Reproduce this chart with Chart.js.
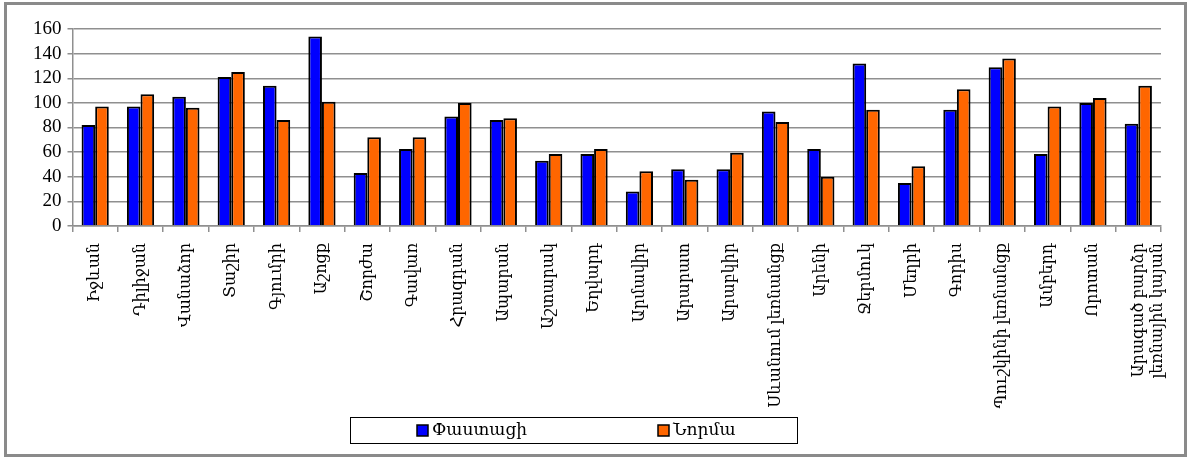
<!DOCTYPE html>
<html>
<head>
<meta charset="utf-8">
<script src="https://cdn.jsdelivr.net/npm/chart.js@4.4.0/dist/chart.umd.js"></script>
<style>
    html, body { margin: 0; padding: 0; background: #fff; }
    #wrap { position: relative; width: 1188px; height: 457px; overflow: hidden; }
    #frame {
        position: absolute;
        left: 4px; top: 2px;
        width: 1177px; height: 449px;
        border: 3px solid #8a8a8a;
        pointer-events: none;
    }
    canvas { position: absolute; left: 0; top: 0; }
</style>
</head>
<body>
<div id="wrap">
    <canvas id="chart" width="1188" height="457"></canvas>
    <div id="frame"></div>
</div>
<script>
// Կայաններ
const stations = [
    'Իջևան', 'Դիլիջան', 'Վանաձոր', 'Տաշիր', 'Գյումրի', 'Աշոցք',
    'Շորժա', 'Գավառ', 'Հրազդան', 'Ապարան', 'Աշտարակ', 'Եղվարդ',
    'Արմավիր', 'Արարատ', 'Արաբկիր', 'Սևանում լեռնանցք', 'Արենի', 'Ջերմուկ',
    'Մեղրի', 'Գորիս', 'Պուշկինի լեռնանցք', 'Ամբերդ', 'Որոտան',
    ['Արագած բարձր', 'լեռնային կայան']
];

const actual = [82, 97, 105, 121, 114, 154, 43, 62.5, 89, 86, 53, 58.5,
                28, 46, 46, 93, 62.5, 132, 35, 94.5, 129, 58.5, 100, 83];
const norm   = [97, 107, 96, 125, 86, 101, 72, 72, 100, 87.5, 58.5, 62.5,
                44.5, 37.5, 59.5, 84.5, 40, 94.5, 48.5, 111, 136, 97, 104, 114];

const seriesNames = ['Փաստացի', 'Նորմա'];
const yTicks = [0, 20, 40, 60, 80, 100, 120, 140, 160];

const FONT = "'Liberation Serif', 'DejaVu Serif', serif";
const GRID = '#8f8f8f';

// legend dessinée à la main (cadre + carrés)
const boxLegend = {
    id: 'boxLegend',
    afterDraw(chart) {
        const ctx = chart.ctx;
        const W = chart.width;
        const frame = { x: W * 0.2946, y: 417, w: W * 0.3763, h: 26 };
        const itemX = [W * 0.351, W * 0.554];
        const cy = frame.y + frame.h / 2;
        ctx.save();
        ctx.strokeStyle = '#000';
        ctx.lineWidth = 1;
        ctx.strokeRect(Math.round(frame.x) + 0.5, frame.y + 0.5, Math.round(frame.w), frame.h);
        ctx.font = '17px ' + FONT;
        ctx.textBaseline = 'middle';
        chart.data.datasets.forEach((ds, i) => {
            const x = Math.round(itemX[i]);
            ctx.fillStyle = ds.backgroundColor;
            ctx.fillRect(x, cy - 5, 11, 11);
            ctx.strokeStyle = '#000';
            ctx.lineWidth = 1.5;
            ctx.strokeRect(x, cy - 5, 11, 11);
            ctx.fillStyle = '#000';
            ctx.fillText(ds.label, x + 15, cy + 1);
        });
        ctx.restore();
    }
};

new Chart(document.getElementById('chart'), {
    type: 'bar',
    data: {
        labels: stations,
        datasets: [{
            label: seriesNames[0],
            data: actual,
            backgroundColor: '#0000ff',
            borderColor: '#000',
            borderWidth: 2,
            categoryPercentage: 0.6,
            barPercentage: 1.0
        }, {
            label: seriesNames[1],
            data: norm,
            backgroundColor: '#ff6600',
            borderColor: '#000',
            borderWidth: 2,
            categoryPercentage: 0.6,
            barPercentage: 1.0
        }]
    },
    options: {
        responsive: false,
        animation: false,
        layout: { padding: { left: 27, right: 14, top: 29, bottom: 46 } },
        plugins: {
            tooltip: { enabled: false },
            legend: { display: false }
        },
        scales: {
            x: {
                afterFit(scale) { scale.height = 185; },
                grid: {
                    offset: true,
                    drawOnChartArea: false,
                    drawTicks: true,
                    tickLength: 6,
                    color: GRID,
                    lineWidth: 1.5
                },
                border: { color: GRID, width: 1.5 },
                ticks: {
                    color: '#000',
                    font: { family: FONT, size: 16 },
                    minRotation: 90,
                    maxRotation: 90,
                    autoSkip: false,
                    padding: 11
                }
            },
            y: {
                min: 0,
                max: 160,
                afterBuildTicks(scale) {
                    scale.ticks = yTicks.map(v => ({ value: v }));
                },
                grid: {
                    color: GRID,
                    lineWidth: 1.5,
                    drawTicks: true,
                    tickLength: 5
                },
                border: { color: GRID, width: 1.5 },
                ticks: {
                    color: '#000',
                    font: { family: FONT, size: 19 },
                    autoSkip: false,
                    padding: 6
                }
            }
        }
    },
    plugins: [boxLegend]
});
</script>
</body>
</html>
